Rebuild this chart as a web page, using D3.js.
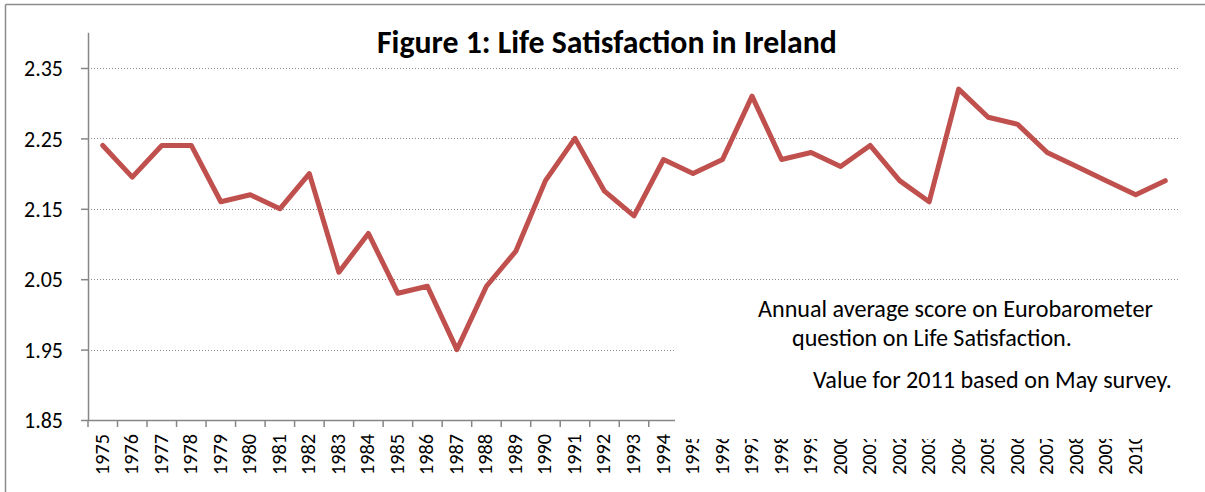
<!DOCTYPE html>
<html>
<head>
<meta charset="utf-8">
<script src="https://cdn.jsdelivr.net/npm/d3@7"></script>
<style>
  body{margin:0;background:#fff;}
  text{font-family:Carlito,Calibri,Lato,"Open Sans",sans-serif;fill:#000;}
</style>
</head>
<body>
<div class="chart"></div>
<script>
// data
const years = d3.range(1975, 2012).map(String);
const scores = [2.24,2.195,2.24,2.24,2.16,2.17,2.15,2.20,2.06,2.115,
                2.03,2.04,1.95,2.04,2.09,2.19,2.25,2.175,2.14,2.22,
                2.20,2.22,2.31,2.22,2.23,2.21,2.24,2.19,2.16,2.32,
                2.28,2.27,2.23,2.21,2.19,2.17,2.19];
const yTicks = [1.85,1.95,2.05,2.15,2.25,2.35];
const xLabels = years.slice(0, -1); // excel dropped the 2011 label
const title = "Figure 1: Life Satisfaction in Ireland";
const notes = ["Annual average score on Eurobarometer",
               "question on Life Satisfaction.",
               "Value for 2011 based on May survey."];

const W = 1205, H = 492;
const left = 88, right = 1180, bottom = 420;

const svg = d3.select(".chart").append("svg").attr("width",W).attr("height",H);

// make a text span exactly the given width
function fit(sel, w){
    sel.each(function(){
        let fs = parseFloat(d3.select(this).style("font-size"));
        let len = this.getComputedTextLength();
        d3.select(this).style("font-size", (fs*w/len)+"px");
    });
}

// chart frame (only top and left visible)
svg.append("line").attr("x1",5.5).attr("x2",W).attr("y1",4.5).attr("y2",4.5).attr("stroke","#8c8c8c").attr("stroke-width",1.5);
svg.append("line").attr("x1",5.5).attr("x2",5.5).attr("y1",4.5).attr("y2",H).attr("stroke","#8c8c8c").attr("stroke-width",1.5);

const x = d3.scaleBand().domain(years).range([left,right]).padding(0);
const y = d3.scaleLinear().domain([1.85,2.40]).range([bottom,32.8]);

// gridlines
svg.append("g").selectAll("line")
    .data(yTicks.slice(1))
    .join("line")
    .attr("x1",left).attr("x2",right)
    .attr("y1",d=>Math.round(y(d))+0.5).attr("y2",d=>Math.round(y(d))+0.5)
    .attr("stroke","#8a8a8a")
    .attr("stroke-dasharray","1,2");

// y axis
const yAxis = svg.append("g").attr("transform",`translate(${left},0)`)
    .call(d3.axisLeft(y).tickValues(yTicks).tickFormat(d3.format(".2f")).tickSize(7).tickPadding(18));
yAxis.select(".domain").attr("d",`M0.5,${y(2.40)}V${bottom}`).attr("stroke","#868686").attr("stroke-width",1.5);
yAxis.selectAll(".tick line").attr("stroke","#868686").attr("stroke-width",1.5);
yAxis.selectAll(".tick text").style("font-size","20px").attr("dy","0.35em");
yAxis.selectAll(".tick text").call(fit, 39);

// x axis, ticks on category boundaries
const xAxis = svg.append("g").attr("transform",`translate(0,${bottom})`);
xAxis.append("line").attr("x1",left).attr("x2",right).attr("y1",0.5).attr("y2",0.5)
    .attr("stroke","#868686").attr("stroke-width",1.5);
xAxis.selectAll(".xtick")
    .data(years)
    .join("line")
    .classed("xtick",true)
    .attr("x1",d=>x(d)).attr("x2",d=>x(d))
    .attr("y1",0).attr("y2",7)
    .attr("stroke","#868686").attr("stroke-width",1.5);
xAxis.selectAll(".xlabel")
    .data(xLabels)
    .join("text")
    .classed("xlabel",true)
    .text(d=>d)
    .attr("transform",d=>`translate(${x(d)+x.bandwidth()/2+6},14) rotate(-90)`)
    .style("text-anchor","end")
    .style("font-size","17px")
    .call(fit, 41);

// the line
const line = d3.line()
    .x((d,i)=>x(years[i])+x.bandwidth()/2)
    .y(d=>y(d));
svg.append("path")
    .datum(scores)
    .attr("d",line)
    .attr("fill","none")
    .attr("stroke","#c0504d")
    .attr("stroke-width",5)
    .attr("stroke-linejoin","round")
    .attr("stroke-linecap","round");

// title
svg.append("text")
    .text(title)
    .attr("x",377).attr("y",53)
    .style("font-weight","bold")
    .style("font-size","24px")
    .call(fit, 460);

// note box covers the lower right part of the plot (and the top of the later labels)
svg.append("rect").attr("x",675).attr("y",292).attr("width",530).attr("height",147).attr("fill","#fff");
const noteX = [758,792,813], noteY = [317,346,388], noteW = [395,280,359];
svg.selectAll(".note")
    .data(notes)
    .join("text")
    .classed("note",true)
    .text(d=>d)
    .attr("x",(d,i)=>noteX[i]).attr("y",(d,i)=>noteY[i])
    .style("font-size","19px")
    .each(function(d,i){ d3.select(this).call(fit, noteW[i]); });
</script>
</body>
</html>
